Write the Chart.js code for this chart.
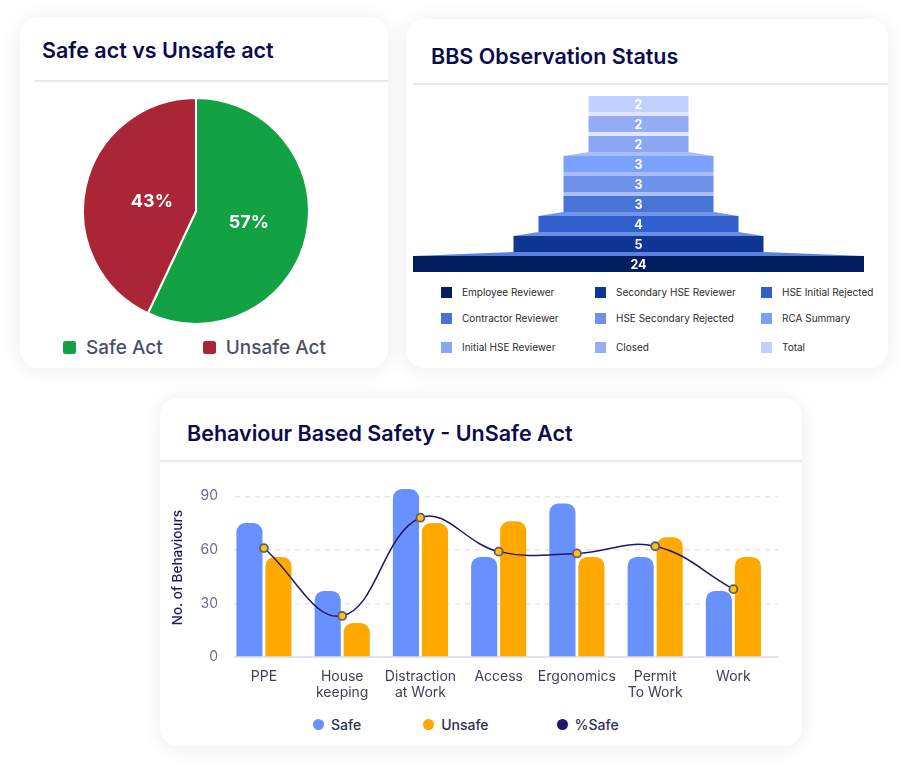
<!DOCTYPE html>
<html>
<head>
<meta charset="utf-8">
<script src="https://cdn.jsdelivr.net/npm/chart.js@4.4.1/dist/chart.umd.min.js"></script>
<style>
  html, body { margin: 0; padding: 0; background: #fff; }
  body { width: 909px; height: 772px; position: relative; overflow: hidden; font-family: Inter, "Noto Sans", sans-serif; }
  .card { position: absolute; background: #fff; border-radius: 18px; box-shadow: 0 2px 22px rgba(30, 30, 70, 0.08); }
  .title { position: absolute; font-weight: 600; font-size: 21.5px; line-height: 24px; color: #0b0b4f; white-space: nowrap; }
  .divider { position: absolute; height: 2px; background: #e9e9ed; }
  .box { position: absolute; }
  .legend { position: absolute; display: flex; align-items: center; white-space: nowrap; }
  .legend .item { display: flex; align-items: center; }
  #pieLegend { left: 63px; top: 335px; height: 24px; gap: 40px; font-size: 19px; font-weight: 500; color: #4b5068; }
  #pieLegend .mark { width: 13px; height: 13px; border-radius: 2.5px; margin-right: 10px; }
  #funnelLegend { position: absolute; left: 441px; top: 282px; display: grid; grid-template-columns: 154px 166px auto; grid-template-rows: 20px 32px 26px; font-size: 10px; color: #2b2b2b; }
  #funnelLegend .item { display: flex; align-items: center; white-space: nowrap; }
  #funnelLegend .mark { width: 11px; height: 11px; margin-right: 10px; }
  #barLegend { left: 313px; top: 716px; height: 16px; gap: 62px; font-size: 14px; font-weight: 500; color: #2d3150; }
  #barLegend .item:last-child { margin-left: 6px; }
  #barLegend .mark { width: 11px; height: 11px; border-radius: 50%; margin-right: 7px; }
</style>
</head>
<body>
<div class="card" style="left:20px;top:17px;width:368px;height:351px;"></div>
<div class="card" style="left:406px;top:19px;width:482px;height:349px;"></div>
<div class="card" style="left:160px;top:398px;width:642px;height:348px;"></div>

<div class="title" style="left:42px;top:38px;">Safe act vs Unsafe act</div>
<div class="divider" style="left:34px;top:80px;width:354px;"></div>
<div class="title" style="left:431px;top:44px;">BBS Observation Status</div>
<div class="divider" style="left:413px;top:83px;width:475px;"></div>
<div class="title" style="left:187px;top:421px;">Behaviour Based Safety - UnSafe Act</div>
<div class="divider" style="left:160px;top:460px;width:642px;"></div>

<div class="box" style="left:82px;top:97px;width:228px;height:228px;"><canvas id="pieChart"></canvas></div>
<div class="legend" id="pieLegend"></div>

<div class="box" style="left:413px;top:94px;width:451px;height:180px;"><canvas id="funnelChart"></canvas></div>
<div id="funnelLegend"></div>

<div class="box" style="left:160px;top:453px;width:642px;height:252px;"><canvas id="barChart"></canvas></div>
<div class="legend" id="barLegend"></div>

<script>
// Safe act vs Unsafe act
const actLabels = ['Safe Act', 'Unsafe Act'];
const actShares = [57, 43];

// BBS Observation Status (bottom of funnel first)
const stageNames = ['Employee Reviewer', 'Secondary HSE Reviewer', 'HSE Initial Rejected',
    'Contractor Reviewer', 'HSE Secondary Rejected', 'RCA Summary',
    'Initial HSE Reviewer', 'Closed', 'Total'];
const stageCounts = [24, 5, 4, 3, 3, 3, 2, 2, 2];

// Behaviour Based Safety - UnSafe Act
const behaviourLabels = [['PPE'], ['House', 'keeping'], ['Distraction', 'at Work'], ['Access'],
    ['Ergonomics'], ['Permit', 'To Work'], ['Work']];
const safeCounts = [75, 37, 94, 56, 86, 56, 37];
const unsafeCounts = [56, 19, 75, 76, 56, 67, 56];
const safePercent = [61, 23, 78, 59, 58, 62, 38];
const yTicks = [0, 30, 60, 90];

// colours
const actColors = ['#12a244', '#aa2536'];
const stageColors = ['#021d5d', '#0f3595', '#315fce', '#4a73d6', '#6e92e9', '#7ca1fb', '#89a7f2', '#94aef6', '#c0d1fe'];
// bands between funnel rows, from the bottom up
const bandColors = ['#5b81e0', '#6b8ee7', '#7095eb', '#a9c0f7', '#a6bdf8', '#a8bef8', '#dfe7fd', '#dfe7fd'];

Chart.defaults.font.family = 'Inter, "Noto Sans", sans-serif';
Chart.defaults.animation = false;

// ---------- pie ----------
const sliceLabels = {
    id: 'sliceLabels',
    afterDatasetsDraw(chart) {
        const ctx = chart.ctx;
        const ds = chart.data.datasets[0];
        ctx.save();
        ctx.font = '700 18px Inter, sans-serif';
        ctx.fillStyle = '#fff';
        ctx.textAlign = 'center';
        ctx.textBaseline = 'middle';
        chart.getDatasetMeta(0).data.forEach((arc, i) => {
            const p = arc.getProps(['x', 'y', 'startAngle', 'endAngle', 'outerRadius']);
            const mid = (p.startAngle + p.endAngle) / 2;
            const r = p.outerRadius * (i === 0 ? 0.48 : 0.4);
            ctx.fillText(ds.data[i] + '%', p.x + Math.cos(mid) * r, p.y + Math.sin(mid) * r);
        });
        ctx.restore();
    }
};

const pie = new Chart(document.getElementById('pieChart'), {
    type: 'pie',
    data: {
        labels: actLabels,
        datasets: [{
            data: actShares,
            backgroundColor: actColors,
            borderColor: '#fff',
            borderWidth: 2,
            hoverOffset: 0
        }]
    },
    options: {
        responsive: true,
        maintainAspectRatio: false,
        layout: { padding: 0 },
        plugins: { legend: { display: false }, tooltip: { enabled: false } }
    },
    plugins: [sliceLabels]
});

document.getElementById('pieLegend').innerHTML = pie.data.labels.map((l, i) =>
    `<div class="item"><span class="mark" style="background:${actColors[i]}"></span>${l}</div>`).join('');

// ---------- funnel ----------
const funnelBands = {
    id: 'funnelBands',
    beforeDatasetsDraw(chart) {
        const ctx = chart.ctx;
        const area = chart.chartArea;
        const bars = chart.getDatasetMeta(0).data;
        const clamp = v => Math.min(area.right, Math.max(area.left, v));
        ctx.save();
        for (let i = 0; i < bars.length - 1; i++) {
            const lower = bars[i].getProps(['x', 'y', 'base', 'height']);
            const upper = bars[i + 1].getProps(['x', 'y', 'base', 'height']);
            const yTop = upper.y + upper.height / 2;
            const yBot = lower.y - lower.height / 2;
            ctx.fillStyle = bandColors[i];
            ctx.beginPath();
            ctx.moveTo(clamp(Math.min(upper.base, upper.x)), yTop);
            ctx.lineTo(clamp(Math.max(upper.base, upper.x)), yTop);
            ctx.lineTo(clamp(Math.max(lower.base, lower.x)), yBot);
            ctx.lineTo(clamp(Math.min(lower.base, lower.x)), yBot);
            ctx.closePath();
            ctx.fill();
        }
        ctx.restore();
    },
    afterDatasetsDraw(chart) {
        const ctx = chart.ctx;
        const cx = chart.scales.x.getPixelForValue(0);
        ctx.save();
        ctx.font = '700 12.5px Inter, sans-serif';
        ctx.fillStyle = '#fff';
        ctx.textAlign = 'center';
        ctx.textBaseline = 'middle';
        chart.getDatasetMeta(0).data.forEach((bar, i) => {
            ctx.fillText(String(stageCounts[i]), cx, bar.y + 1);
        });
        ctx.restore();
    }
};

new Chart(document.getElementById('funnelChart'), {
    type: 'bar',
    data: {
        labels: stageNames,
        datasets: [{
            data: stageCounts.map(v => [-v / 2, v / 2]),
            backgroundColor: stageColors,
            borderWidth: 0,
            borderSkipped: false,
            barPercentage: 0.8,
            categoryPercentage: 1
        }]
    },
    options: {
        indexAxis: 'y',
        responsive: true,
        maintainAspectRatio: false,
        layout: { padding: 0 },
        scales: {
            x: { display: false, min: -4.51, max: 4.51 },
            y: { display: false, reverse: true }
        },
        plugins: { legend: { display: false }, tooltip: { enabled: false } }
    },
    plugins: [funnelBands]
});

document.getElementById('funnelLegend').innerHTML = stageNames.map((n, i) =>
    `<div class="item"><span class="mark" style="background:${stageColors[i]}"></span>${n}</div>`).join('');

// ---------- bars + line ----------
const barChart = new Chart(document.getElementById('barChart'), {
    type: 'bar',
    data: {
        datasets: [{
            label: 'Safe',
            data: safeCounts.map((v, i) => ({ x: i, y: v })),
            backgroundColor: '#6891fe',
            borderRadius: { topLeft: 9, topRight: 9 },
            barPercentage: 0.9,
            categoryPercentage: 0.741,
            order: 1
        }, {
            label: 'Unsafe',
            data: unsafeCounts.map((v, i) => ({ x: i, y: v })),
            backgroundColor: '#ffa800',
            borderRadius: { topLeft: 9, topRight: 9 },
            barPercentage: 0.9,
            categoryPercentage: 0.741,
            order: 1
        }, {
            type: 'line',
            label: '%Safe',
            data: safePercent.map((v, i) => ({ x: i, y: v })),
            borderColor: '#1e1868',
            borderWidth: 1.5,
            tension: 0.4,
            pointRadius: 4,
            pointBackgroundColor: '#ffc300',
            pointBorderColor: '#5c5889',
            pointBorderWidth: 1.8,
            legendColor: '#1e1670',
            order: 0
        }]
    },
    options: {
        responsive: true,
        maintainAspectRatio: false,
        layout: { padding: { left: 6, top: 12, right: 24, bottom: 0 } },
        scales: {
            x: {
                type: 'linear',
                min: -0.37,
                max: 6.57,
                offset: false,
                bounds: 'data',
                afterBuildTicks: s => { s.ticks = behaviourLabels.map((_, i) => ({ value: i })); },
                afterFit: s => { s.height = 48; },
                grid: { display: false, drawTicks: false },
                border: { display: true, color: '#e1e3ee', width: 2 },
                ticks: {
                    autoSkip: false,
                    maxRotation: 0,
                    padding: 11,
                    color: '#3d405c',
                    font: { size: 14 },
                    callback: (v, i) => behaviourLabels[i]
                }
            },
            y: {
                min: 0,
                max: 100,
                bounds: 'data',
                afterBuildTicks: s => { s.ticks = yTicks.map(v => ({ value: v })); },
                afterFit: s => { s.width = 69; },
                grid: {
                    drawTicks: false,
                    lineWidth: 1.5,
                    color: c => c.tick && c.tick.value === 0 ? 'rgba(0,0,0,0)' : '#e4e6f1'
                },
                border: { display: false, dash: [5, 5] },
                ticks: { padding: 17, color: '#6e6d8f', font: { size: 14 } },
                title: {
                    display: true,
                    text: 'No. of Behaviours',
                    color: '#1c1a5e',
                    font: { size: 13.5, weight: 500 },
                    padding: { top: 4, bottom: 0 }
                }
            }
        },
        plugins: { legend: { display: false }, tooltip: { enabled: false } }
    }
});

document.getElementById('barLegend').innerHTML = barChart.data.datasets.map(d =>
    `<div class="item"><span class="mark" style="background:${d.legendColor || d.backgroundColor}"></span>${d.label}</div>`).join('');
</script>
</body>
</html>
